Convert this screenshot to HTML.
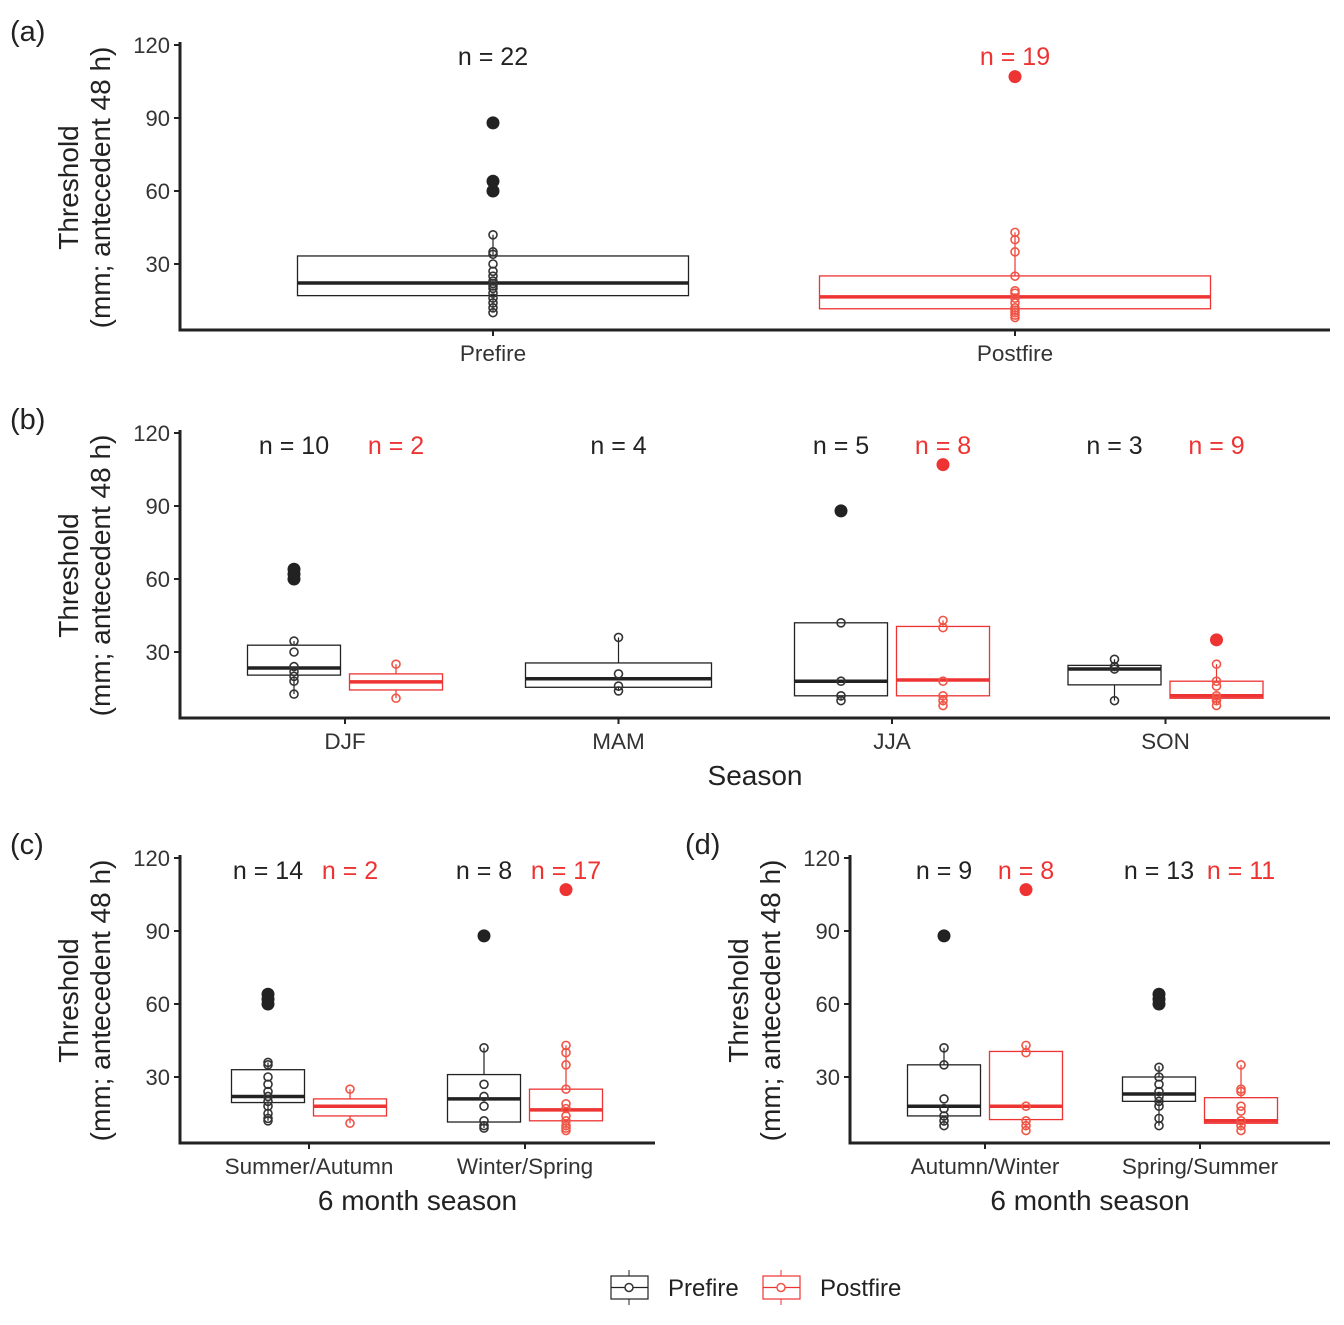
<!DOCTYPE html>
<html><head><meta charset="utf-8"><style>
body{margin:0;background:#fff}
svg text{font-family:"Liberation Sans",Arial,sans-serif}
</style></head><body>
<svg id="c" width="1344" height="1320" xmlns="http://www.w3.org/2000/svg"></svg>
<script>
const K='#222', R='#ee3333';
const panelLabels=['(a)','(b)','(c)','(d)'];
const yTicks=[30,60,90,120];
const catsA=['Prefire','Postfire'];
const catsB=['DJF','MAM','JJA','SON'];
const catsC=['Summer/Autumn','Winter/Spring'];
const catsD=['Autumn/Winter','Spring/Summer'];
const statsA=[[0,0,10,17,22.2,33.3,42],[1,1,8,11.6,16.5,25.1,43]];
const outA=[[0,0,[60,64,88]],[1,1,[107]]];
const ptsA=[[0,0,[42,35,34,30,27,25,23,22,21,20,18,16,14,12,10]],[1,1,[43,40,35,25,19,18,16,14,12,11,10,9,8]]];
const nA=[[0,0,'n = 22'],[1,1,'n = 19']];
const statsB=[[0,0,12.7,20.5,23.4,32.8,34.5],[0,1,11,14.4,17.7,21,25],[1,0,14,15.5,19,25.5,36],
 [2,0,10,12,18,42,42],[2,1,8,12,18.5,40.5,43],[3,0,10,16.5,23,24.5,27],[3,1,8,11,12,18,25]];
const outB=[[0,0,[60,62,64]],[2,0,[88]],[2,1,[107]],[3,1,[35]]];
const ptsB=[[0,0,[34.5,30,24,22,20,18,12.7]],[0,1,[25,11]],[1,0,[36,21,16,14]],[2,0,[42,18,12,10]],
 [2,1,[43,40,18,12,10,8]],[3,0,[27,24,23,10]],[3,1,[25,18,16,12,11,10,8]]];
const nB=[[0,0,'n = 10'],[0,1,'n = 2'],[1,-1,'n = 4'],[2,0,'n = 5'],[2,1,'n = 8'],[3,0,'n = 3'],[3,1,'n = 9']];
const statsC=[[0,0,12,19.5,22,33,36],[0,1,11,14,18,21,25],[1,0,9,11.5,21,31,42],[1,1,8,12,16.5,25,43]];
const outC=[[0,0,[60,62,64]],[1,0,[88]],[1,1,[107]]];
const ptsC=[[0,0,[36,35,30,27,24,22,20,18,15,13,12]],[0,1,[25,11]],[1,0,[42,27,22,18,12,10,9]],[1,1,[43,40,35,25,19,17,14,12,10,9,8]]];
const nC=[[0,0,'n = 14'],[0,1,'n = 2'],[1,0,'n = 8'],[1,1,'n = 17']];
const statsD=[[0,0,10,14,18,35,42],[0,1,8,12.5,18,40.5,43],[1,0,10,20,23,30,34.5],[1,1,8,11,12,21.5,35]];
const outD=[[0,0,[88]],[0,1,[107]],[1,0,[60,62,64]]];
const ptsD=[[0,0,[42,35,21,17,14,12,10]],[0,1,[43,40,18,12,10,8]],[1,0,[34,30,27,24,22,20,18,13,10]],[1,1,[35,25,24,18,16,12,10,8]]];
const nD=[[0,0,'n = 9'],[0,1,'n = 8'],[1,0,'n = 13'],[1,1,'n = 11']];

const svg=document.getElementById('c');
const NS='http://www.w3.org/2000/svg';
function mk(t,a,p){const e=document.createElementNS(NS,t);for(const k in a)e.setAttribute(k,a[k]);(p||svg).appendChild(e);return e;}

function panel(o){
  const g=mk('g',{});
  
  
  const y=v=>o.y30-(v-30)*(219/90);
  const xc=i=>o.x0+o.first+i*o.sp;
  const gx=(i,gr)=>o.dodge&&gr>=0?xc(i)+(gr?1:-1)*o.off:xc(i);
  mk('line',{x1:o.x0,y1:y(120)-3,x2:o.x0,y2:o.yb,stroke:K,'stroke-width':3},g);
  mk('line',{x1:o.x0-1.5,y1:o.yb,x2:o.x1,y2:o.yb,stroke:K,'stroke-width':3},g);
  yTicks.forEach(t=>{
    mk('line',{x1:o.x0-6,y1:y(t),x2:o.x0,y2:y(t),stroke:K,'stroke-width':2},g);
    const tx=mk('text',{x:o.x0-10,y:y(t)+8,'text-anchor':'end','font-size':22,fill:'#333'},g);tx.textContent=t;
    
    
  });
  o.cats.forEach((c,i)=>{
    mk('line',{x1:xc(i),y1:o.yb,x2:xc(i),y2:o.yb+6,stroke:K,'stroke-width':2},g);
    const tx=mk('text',{x:xc(i),y:o.yb+31,'text-anchor':'middle','font-size':22.5,fill:'#333'},g);tx.textContent=c;
    
    
  });
  const lab=mk('text',{x:o.lx,y:y(120)-4,'font-size':29,fill:'#222'},g);lab.textContent=o.label;
  
  
  const ym=(y(120)+o.yb)/2;
  [['Threshold',o.x0-102],['(mm; antecedent 48 h)',o.x0-70]].forEach(([t,xx])=>{
    const tx=mk('text',{x:xx,y:ym,'text-anchor':'middle','font-size':28,fill:'#222',transform:`rotate(-90 ${xx} ${ym})`},g);tx.textContent=t;
    
    
  });
  if(o.xtitle){const tx=mk('text',{x:(o.x0+o.x1)/2,y:o.yb+67,'text-anchor':'middle','font-size':28,fill:'#222'},g);tx.textContent=o.xtitle;
    
    }
  o.stats.forEach(s=>{
    const [i,gr,lo,q1,md,q3,hi]=s;const col=gr?R:K;
    const single=o.dodge&&o.stats.filter(t=>t[0]===i).length===1;
    const cx=single?xc(i):gx(i,gr);const hw=single?o.w:o.w/2;
    const b=mk('g',{},g);
    
    
    mk('line',{x1:cx,y1:y(hi),x2:cx,y2:y(q3),stroke:col,'stroke-width':1.2},b);
    mk('line',{x1:cx,y1:y(q1),x2:cx,y2:y(lo),stroke:col,'stroke-width':1.2},b);
    mk('rect',{x:cx-hw,y:y(q3),width:2*hw,height:y(q1)-y(q3),fill:'none',stroke:col,'stroke-width':1.3},b);
    mk('line',{x1:cx-hw,y1:y(md),x2:cx+hw,y2:y(md),stroke:col,'stroke-width':3.5},b);
  });
  o.pts.forEach(([i,gr,vs])=>{
    const single=o.dodge&&o.stats.filter(t=>t[0]===i).length===1;
    const cx=single?xc(i):gx(i,gr);
    vs.forEach(v=>{const c=mk('circle',{cx:cx,cy:y(v),r:4,fill:'none',stroke:gr?'#f05545':'#333','stroke-width':1.6},g);
      
      });
  });
  o.out.forEach(([i,gr,vs])=>{
    const single=o.dodge&&o.stats.filter(t=>t[0]===i).length===1;
    const cx=single?xc(i):gx(i,gr);
    vs.forEach(v=>{const c=mk('circle',{cx:cx,cy:y(v),r:6.5,fill:gr?R:K},g);
      
      });
  });
  o.n.forEach(([i,gr,t])=>{
    const cx=gr<0?xc(i):gx(i,gr);
    const tx=mk('text',{x:cx,y:o.ny,'text-anchor':'middle','font-size':25,fill:gr===1?R:'#222'},g);tx.textContent=t;
    
    
  });
}
panel({id:'a',label:'(a)',lx:10,x0:180,x1:1330,first:313,sp:522,w:391,dodge:false,y30:264,yb:330,cats:catsA,stats:statsA,out:outA,pts:ptsA,n:nA,ny:65});
panel({id:'b',label:'(b)',lx:10,x0:180,x1:1330,first:165,sp:273.5,w:93,off:51,dodge:true,y30:652,yb:718,cats:catsB,stats:statsB,out:outB,pts:ptsB,n:nB,ny:454,xtitle:'Season'});
panel({id:'c',label:'(c)',lx:10,x0:180,x1:655,first:129,sp:216,w:73,off:41,dodge:true,y30:1077,yb:1143,cats:catsC,stats:statsC,out:outC,pts:ptsC,n:nC,ny:879,xtitle:'6 month season'});
panel({id:'d',label:'(d)',lx:685,x0:850,x1:1330,first:135,sp:215,w:73,off:41,dodge:true,y30:1077,yb:1143,cats:catsD,stats:statsD,out:outD,pts:ptsD,n:nD,ny:879,xtitle:'6 month season'});
[['Prefire',611,K,'#333'],['Postfire',763,R,'#f05545']].forEach(([t,x,c,pc])=>{
  const g=mk('g',{});
  
  
  mk('line',{x1:x+18,y1:1270,x2:x+18,y2:1305,stroke:c,'stroke-width':1},g);
  mk('rect',{x:x,y:1276,width:37,height:23,fill:'#fff',stroke:c,'stroke-width':1.2},g);
  mk('line',{x1:x,y1:1287.5,x2:x+37,y2:1287.5,stroke:c,'stroke-width':1.2},g);
  mk('circle',{cx:x+18,cy:1287.5,r:4,fill:'#fff',stroke:pc,'stroke-width':1.5},g);
  const tx=mk('text',{x:x+57,y:1296,'font-size':24,fill:'#222'},g);tx.textContent=t;
});
</script>
</body></html>
